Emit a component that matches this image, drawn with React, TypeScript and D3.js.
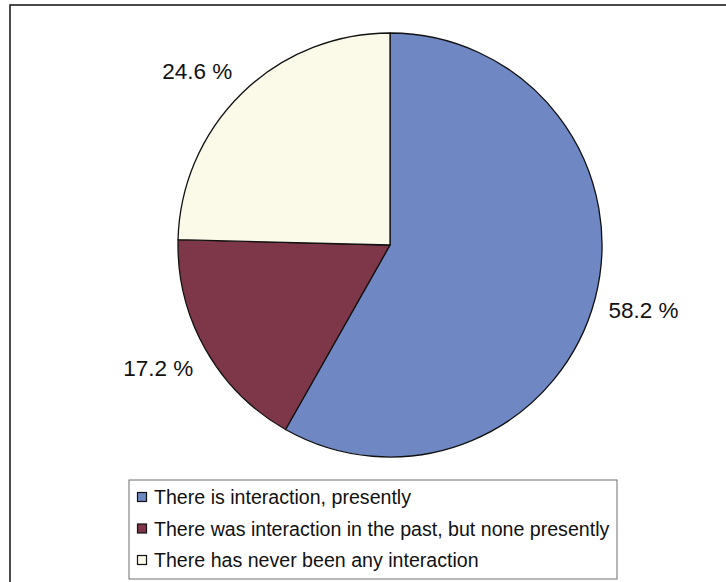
import React from "react";
import * as d3 from "d3";

// Survey shares (percent) and their legend labels
const categories = [
  "There is interaction, presently",
  "There was interaction in the past, but none presently",
  "There has never been any interaction",
];
const shares = [58.2, 17.2, 24.6];
const sliceColors = ["#6f87c2", "#7e3748", "#fbf9e7"];

const W = 726;
const H = 582;
const cx = 390;
const cy = 245;
const R = 212;

export default function App() {
  const pie = d3
    .pie<number>()
    .sort(null)
    .value((d) => d)
    .startAngle(0)
    .endAngle(2 * Math.PI);
  const arcs = pie(shares);
  const arcGen = d3.arc<d3.PieArcDatum<number>>().innerRadius(0).outerRadius(R);

  const labelGap = 14;
  const font = "'Liberation Sans', Arial, Helvetica, sans-serif";

  const legendX = 129;
  const legendY = 480;
  const legendW = 488;
  const legendH = 99;
  const rowY = d3.scalePoint<number>().domain([0, 1, 2]).range([497, 560]);

  return (
    <svg
      width={W}
      height={H}
      style={{ position: "fixed", left: 0, top: 0, background: "#fff" }}
    >
      {/* outer chart frame, clipped at the right and bottom */}
      <rect x={10} y={5} width={740} height={600} fill="#fff" stroke="#1e1e1e" strokeWidth={1.6} />

      <g transform={`translate(${cx},${cy})`}>
        {arcs.map((a, i) => (
          <path
            key={i}
            d={arcGen(a) || ""}
            fill={sliceColors[i]}
            stroke="#111"
            strokeWidth={1.3}
            strokeLinejoin="round"
          />
        ))}
      </g>

      {arcs.map((a, i) => {
        const mid = (a.startAngle + a.endAngle) / 2;
        const s = Math.sin(mid);
        const c = Math.cos(mid);
        const px = cx + (R + labelGap) * s;
        const py = cy - (R + labelGap) * c;
        const baseline = py + 10 - 20 * c;
        return (
          <text
            key={i}
            x={px}
            y={baseline}
            textAnchor={s >= 0 ? "start" : "end"}
            fontFamily={font}
            fontSize={22.5}
            fill="#111"
          >
            {`${shares[i].toFixed(1)} %`}
          </text>
        );
      })}

      {/* legend */}
      <rect
        x={legendX}
        y={legendY}
        width={legendW}
        height={legendH}
        fill="#fff"
        stroke="#6e6e6e"
        strokeWidth={1}
      />
      {categories.map((name, i) => {
        const y = rowY(i) as number;
        return (
          <g key={i}>
            <rect
              x={137.5}
              y={y - 4.5}
              width={9}
              height={9}
              fill={sliceColors[i]}
              stroke="#111"
              strokeWidth={1.2}
            />
            <text
              x={154}
              y={y + 7}
              fontFamily={font}
              fontSize={19.6}
              fill="#111"
            >
              {name}
            </text>
          </g>
        );
      })}
    </svg>
  );
}
